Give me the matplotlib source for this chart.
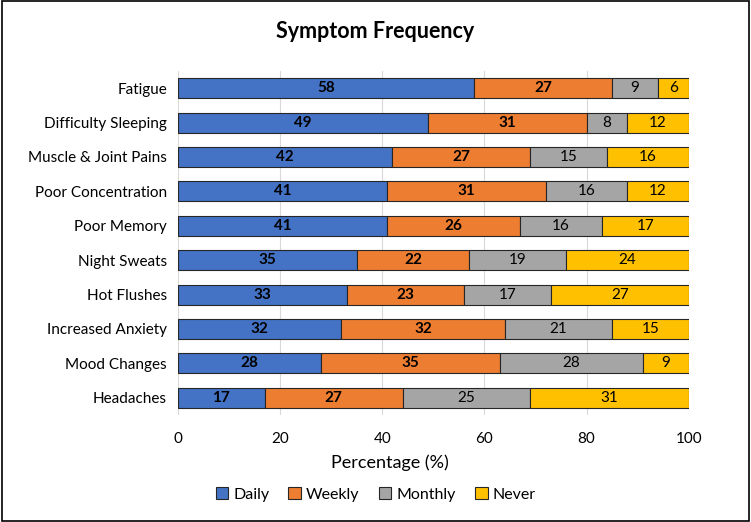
import numpy as np
import matplotlib.pyplot as plt

plt.rcParams['font.family'] = ['Lato', 'DejaVu Sans']

### data
symptoms = ['Fatigue', 'Difficulty Sleeping', 'Muscle & Joint Pains', 'Poor Concentration',
            'Poor Memory', 'Night Sweats', 'Hot Flushes', 'Increased Anxiety',
            'Mood Changes', 'Headaches']
daily   = [58, 49, 42, 41, 41, 35, 33, 32, 28, 17]
weekly  = [27, 31, 27, 31, 26, 22, 23, 32, 35, 27]
monthly = [9, 8, 15, 16, 16, 19, 17, 21, 28, 25]
never   = [6, 12, 16, 12, 17, 24, 27, 15, 9, 31]
series_names = ['Daily', 'Weekly', 'Monthly', 'Never']

### plot
colors = ['#4472C4', '#ED7D31', '#A5A5A5', '#FFC000']
bold   = [True, True, False, False]

fig = plt.figure(figsize=(7.51, 5.22), dpi=100)
ax = fig.add_axes([0.237, 0.205, 0.68, 0.659])

y = np.arange(len(symptoms))
left = np.zeros(len(symptoms))
handles = []
for vals, name, c, b in zip([daily, weekly, monthly, never], series_names, colors, bold):
    vals = np.array(vals)
    h = ax.barh(y, vals, left=left, height=0.58, color=c, edgecolor='#262626', linewidth=0.8, label=name, zorder=3)
    handles.append(h)
    for yi, l, v in zip(y, left, vals):
        ax.text(l + v/2, yi, str(v), ha='center', va='center', fontsize=11,
                fontweight='bold' if b else 'normal', color='black', zorder=4)
    left = left + vals

ax.set_yticks(y)
ax.set_yticklabels(symptoms, fontsize=11)
ax.set_ylim(len(symptoms) - 0.5, -0.5)
ax.set_xlim(0, 100)
ax.set_xticks(np.arange(0, 101, 20))
ax.tick_params(axis='x', labelsize=11, length=0, pad=12)
ax.tick_params(axis='y', length=0, pad=8)
ax.grid(axis='x', color='#D9D9D9', linewidth=0.8, zorder=0)
for s in ax.spines.values():
    s.set_visible(False)

fig.text(0.519, 0.113, 'Percentage (%)', fontsize=13, ha='center', va='center')
fig.suptitle('Symptom Frequency', fontsize=15.5, fontweight='bold', y=0.96)
fig.legend(handles=handles, labels=series_names, loc='center', bbox_to_anchor=(0.5, 0.053),
           ncol=4, frameon=False, fontsize=11.5, handlelength=0.8, handleheight=0.8,
           handletextpad=0.3, columnspacing=1.2)

# outer border
fig.patches.append(plt.Rectangle((0.002, 0.002), 0.996, 0.996, transform=fig.transFigure,
                                 fill=False, edgecolor='black', linewidth=1.2))

fig.savefig('out.png', dpi=100)
